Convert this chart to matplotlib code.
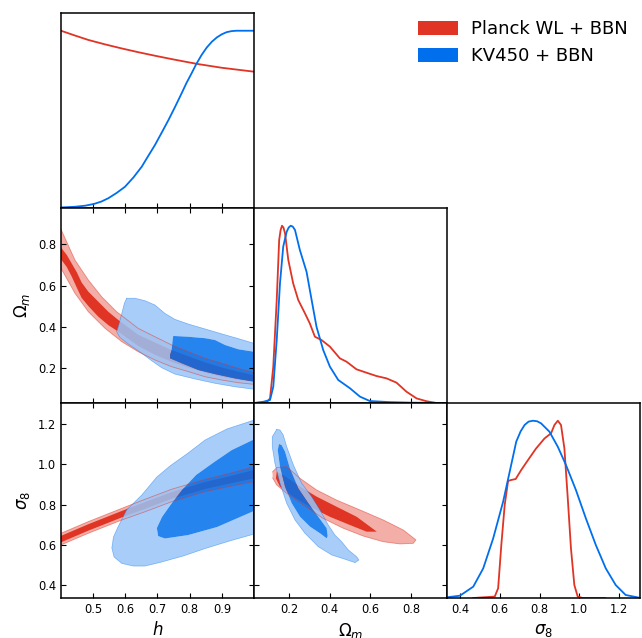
import numpy as np
import matplotlib
matplotlib.use("Agg")
import matplotlib.pyplot as plt
from matplotlib.path import Path
from matplotlib.patches import PathPatch, Patch

RED = "#E03424"
BLUE = "#006FED"
RED_PALE = "#F3AEA7"
BLUE_PALE = "#99C5F8"

labels = ["Planck WL + BBN", "KV450 + BBN"]

h_lim = (0.4, 1.0)
om_lim = (0.027, 0.978)
s8_lim = (0.335, 1.305)

h_ticks = [0.5, 0.6, 0.7, 0.8, 0.9]
om_ticks = [0.2, 0.4, 0.6, 0.8]
s8_ticks = [0.4, 0.6, 0.8, 1.0, 1.2]

# ---- 1D marginals (normalised to peak 1)
h_red_x = [0.4, 0.44, 0.485, 0.537, 0.589, 0.64, 0.692, 0.744, 0.796, 0.826, 0.9, 0.95, 1.0]
h_red_p = [1.0, 0.975, 0.948, 0.923, 0.90, 0.879, 0.859, 0.84, 0.822, 0.812, 0.791, 0.78, 0.769]
h_blue_x = [0.4, 0.4435, 0.475, 0.5026, 0.525, 0.547, 0.573, 0.599, 0.625, 0.651, 0.67, 0.692,
            0.713, 0.734, 0.755, 0.775, 0.79, 0.806, 0.82, 0.837, 0.853, 0.869, 0.885, 0.9,
            0.915, 0.931, 0.946, 0.962, 1.0]
h_blue_p = [0.003, 0.007, 0.013, 0.023, 0.036, 0.055, 0.085, 0.12, 0.172, 0.233, 0.29, 0.355,
            0.425, 0.496, 0.572, 0.647, 0.705, 0.76, 0.81, 0.863, 0.905, 0.938, 0.963, 0.98,
            0.992, 0.998, 1.0, 1.0, 1.0]

om_red_x = [0.027, 0.089, 0.106, 0.122, 0.139, 0.151, 0.158, 0.165, 0.172, 0.18, 0.196, 0.22,
            0.245, 0.278, 0.302, 0.327, 0.36, 0.401, 0.45, 0.483, 0.532, 0.581, 0.631, 0.68,
            0.729, 0.778, 0.828, 0.877, 0.926, 0.978]
om_red_p = [0.0, 0.003, 0.026, 0.205, 0.581, 0.919, 0.975, 1.0, 0.99, 0.957, 0.807, 0.675,
            0.581, 0.506, 0.449, 0.374, 0.355, 0.318, 0.252, 0.233, 0.19, 0.171, 0.152, 0.139,
            0.115, 0.064, 0.026, 0.01, 0.0, 0.0]
om_blue_x = [0.027, 0.073, 0.106, 0.122, 0.139, 0.155, 0.171, 0.188, 0.198, 0.208, 0.218,
             0.229, 0.253, 0.286, 0.311, 0.335, 0.368, 0.401, 0.442, 0.5, 0.549, 0.598, 0.696,
             0.795, 0.978]
om_blue_p = [0.0, 0.007, 0.017, 0.092, 0.355, 0.675, 0.882, 0.966, 0.99, 1.0, 0.995,
             0.976, 0.863, 0.74, 0.581, 0.43, 0.299, 0.205, 0.13, 0.083, 0.036, 0.011, 0.005,
             0.002, 0.0]

s8_red_x = [0.467, 0.575, 0.592, 0.608, 0.625, 0.642, 0.658, 0.68, 0.708, 0.742, 0.783,
            0.825, 0.858, 0.875, 0.892, 0.908, 0.925, 0.942, 0.958, 0.975, 0.992, 1.017, 1.13]
s8_red_p = [0.0, 0.008, 0.055, 0.299, 0.525, 0.66, 0.666, 0.671, 0.722, 0.778, 0.844,
            0.9, 0.929, 0.976, 1.0, 0.976, 0.844, 0.562, 0.28, 0.073, 0.008, 0.0, 0.0]
s8_blue_x = [0.335, 0.4, 0.467, 0.517, 0.567, 0.617, 0.65, 0.683, 0.705, 0.725, 0.745, 0.767,
             0.788, 0.808, 0.85, 0.892, 0.933, 0.983, 1.033, 1.083, 1.133, 1.183, 1.233, 1.295]
s8_blue_p = [0.004, 0.013, 0.064, 0.167, 0.336, 0.543, 0.712, 0.882, 0.94, 0.976, 0.995, 1.0,
             0.997, 0.985, 0.938, 0.853, 0.75, 0.609, 0.449, 0.299, 0.167, 0.073, 0.017, 0.003]

# ---- 2D contours (outer = 95%, inner = 68%)
hom_red_out_x = [0.4, 0.4435, 0.485, 0.5265, 0.573, 0.640, 0.692, 0.744, 0.796, 0.848, 0.900,
                 0.951, 1.0, 1.0, 0.951, 0.9, 0.848, 0.796, 0.744, 0.692, 0.640, 0.589, 0.537,
                 0.485, 0.4435, 0.4]
hom_red_out_y = [0.874, 0.724, 0.627, 0.545, 0.472, 0.391, 0.350, 0.310, 0.277, 0.245, 0.221,
                 0.196, 0.175, 0.118, 0.126, 0.139, 0.155, 0.180, 0.204, 0.237, 0.277, 0.326,
                 0.391, 0.472, 0.562, 0.684]
hom_red_in_x = [0.4, 0.418, 0.433, 0.449, 0.464, 0.485, 0.516, 0.547, 0.578, 0.64, 0.692, 0.744,
                0.796, 0.848, 0.9, 0.951, 1.0, 1.0, 0.951, 0.9, 0.848, 0.796, 0.744, 0.692, 0.64,
                0.578, 0.547, 0.516, 0.485, 0.464, 0.449, 0.433, 0.418, 0.4]
hom_red_in_y = [0.785, 0.749, 0.708, 0.665, 0.615, 0.570, 0.521, 0.472, 0.432, 0.36, 0.322, 0.285,
                0.255, 0.225, 0.2, 0.18, 0.162, 0.13, 0.14, 0.155, 0.175, 0.2, 0.228, 0.262, 0.305,
                0.375, 0.407, 0.448, 0.500, 0.54, 0.59, 0.645, 0.69, 0.728]
hom_blue_out_x = [0.604, 0.630, 0.661, 0.692, 0.723, 0.754, 0.796, 0.848, 0.900, 0.951, 1.0, 1.0,
                  0.941, 0.879, 0.817, 0.754, 0.713, 0.682, 0.640, 0.609, 0.583, 0.573, 0.581,
                  0.589, 0.597]
hom_blue_out_y = [0.538, 0.538, 0.526, 0.505, 0.464, 0.435, 0.412, 0.388, 0.364, 0.341, 0.318,
                  0.094, 0.106, 0.123, 0.144, 0.168, 0.199, 0.233, 0.282, 0.315, 0.347, 0.375,
                  0.416, 0.464, 0.513]
hom_blue_in_x = [0.749, 0.796, 0.848, 0.879, 0.910, 0.951, 1.0, 1.0, 0.941, 0.879, 0.827, 0.775,
                 0.739, 0.739, 0.744, 0.747]
hom_blue_in_y = [0.354, 0.350, 0.343, 0.334, 0.310, 0.289, 0.277, 0.131, 0.147, 0.168, 0.188,
                 0.221, 0.245, 0.261, 0.285, 0.334]

hs8_red_out_x = [0.4, 0.485, 0.589, 0.661, 0.744, 0.848, 0.931, 1.0, 1.0, 0.931, 0.848, 0.744,
                 0.661, 0.589, 0.485, 0.4]
hs8_red_out_y = [0.657, 0.715, 0.781, 0.826, 0.876, 0.925, 0.958, 0.988, 0.914, 0.892, 0.864,
                 0.814, 0.764, 0.723, 0.657, 0.599]
hs8_red_in_x = [0.4, 0.485, 0.589, 0.661, 0.744, 0.848, 0.931, 1.0, 1.0, 0.931, 0.848, 0.744,
                0.661, 0.589, 0.485, 0.4]
hs8_red_in_y = [0.644, 0.702, 0.768, 0.812, 0.862, 0.912, 0.943, 0.972, 0.930, 0.907, 0.877,
                0.828, 0.778, 0.736, 0.670, 0.612]
hs8_blue_out_x = [1.0, 0.916, 0.848, 0.795, 0.739, 0.698, 0.651, 0.604, 0.577, 0.563, 0.558,
                  0.565, 0.589, 0.625, 0.661, 0.708, 0.780, 0.848, 0.925, 1.0]
hs8_blue_out_y = [1.220, 1.176, 1.121, 1.056, 0.992, 0.937, 0.847, 0.773, 0.688, 0.638, 0.584,
                  0.539, 0.507, 0.494, 0.494, 0.512, 0.544, 0.581, 0.619, 0.653]
hs8_blue_in_x = [1.0, 0.931, 0.876, 0.820, 0.779, 0.745, 0.714, 0.698, 0.702, 0.723, 0.795,
                 0.885, 1.0]
hs8_blue_in_y = [1.124, 1.071, 1.011, 0.947, 0.877, 0.808, 0.738, 0.683, 0.643, 0.631, 0.648,
                 0.688, 0.768]

oms8_red_out_x = [0.118, 0.139, 0.188, 0.254, 0.336, 0.434, 0.549, 0.664, 0.763, 0.825, 0.812,
                  0.746, 0.664, 0.566, 0.467, 0.368, 0.270, 0.188, 0.139, 0.119]
oms8_red_out_y = [0.962, 0.984, 0.988, 0.930, 0.872, 0.822, 0.773, 0.723, 0.673, 0.624, 0.607,
                  0.604, 0.615, 0.643, 0.682, 0.731, 0.798, 0.856, 0.897, 0.932]
oms8_red_in_x = [0.139, 0.171, 0.254, 0.336, 0.434, 0.533, 0.632, 0.582, 0.500, 0.401, 0.303,
                 0.221, 0.155, 0.135]
oms8_red_in_y = [0.963, 0.947, 0.889, 0.839, 0.789, 0.739, 0.665, 0.665, 0.698, 0.739, 0.789,
                 0.839, 0.889, 0.930]
oms8_blue_out_x = [0.139, 0.117, 0.117, 0.130, 0.155, 0.188, 0.229, 0.278, 0.344, 0.410, 0.475,
                   0.525, 0.544, 0.533, 0.492, 0.459, 0.426, 0.393, 0.352, 0.311, 0.262, 0.221,
                   0.188, 0.171, 0.155]
oms8_blue_out_y = [1.174, 1.137, 1.088, 1.005, 0.906, 0.806, 0.723, 0.657, 0.590, 0.549, 0.528,
                   0.511, 0.524, 0.540, 0.574, 0.615, 0.648, 0.698, 0.773, 0.839, 0.906, 0.997,
                   1.088, 1.146, 1.171]
oms8_blue_in_x = [0.150, 0.144, 0.155, 0.180, 0.213, 0.254, 0.303, 0.352, 0.385, 0.390, 0.385,
                  0.344, 0.295, 0.245, 0.204, 0.180, 0.163]
oms8_blue_in_y = [1.101, 1.071, 0.988, 0.889, 0.806, 0.739, 0.690, 0.657, 0.632, 0.643, 0.682,
                  0.739, 0.806, 0.881, 0.980, 1.063, 1.096]


def signed_area(p):
    x, y = p[:, 0], p[:, 1]
    return 0.5 * np.sum(x * np.roll(y, -1) - np.roll(x, -1) * y)


def ring_path(ox, oy, ix, iy):
    o = np.column_stack([ox, oy])
    i = np.column_stack([ix, iy])
    if signed_area(o) * signed_area(i) > 0:
        i = i[::-1]
    verts = np.concatenate([o, o[:1], i, i[:1]])
    codes = ([Path.MOVETO] + [Path.LINETO] * (len(o) - 1) + [Path.CLOSEPOLY] +
             [Path.MOVETO] + [Path.LINETO] * (len(i) - 1) + [Path.CLOSEPOLY])
    return Path(verts, codes)


def draw_2d(ax, rox, roy, rix, riy, box, boy, bix, biy):
    ax.fill(rox, roy, color=RED_PALE, lw=0, zorder=1)
    ax.fill(rix, riy, color=RED, lw=0, zorder=1.1)
    ax.add_patch(PathPatch(ring_path(box, boy, bix, biy), facecolor=BLUE_PALE,
                           edgecolor="none", alpha=0.85, zorder=1.2))
    ax.fill(bix, biy, color=BLUE, lw=0, alpha=0.85, zorder=1.3)
    ax.plot(list(box) + [box[0]], list(boy) + [boy[0]], color=BLUE, lw=0.5, alpha=0.45, zorder=1.4)
    ax.plot(rox, roy, color=RED, lw=0.6, alpha=0.5, zorder=1.5)


def style(ax, full=True):
    ax.tick_params(direction="in", length=3.5, width=0.8, labelsize=8.3,
                   top=full, right=full, left=full)
    for s in ax.spines.values():
        s.set_linewidth(1.1)


fig = plt.figure(figsize=(6.42, 6.38), dpi=100)
W, H = 193 / 642, 195 / 638
cols = [61 / 642, 254 / 642, 447 / 642]
rows = [1 - 208 / 638, 1 - 403 / 638, 1 - 598 / 638]

ax_h = fig.add_axes([cols[0], rows[0], W, H])
ax_hom = fig.add_axes([cols[0], rows[1], W, H])
ax_om = fig.add_axes([cols[1], rows[1], W, H])
ax_hs8 = fig.add_axes([cols[0], rows[2], W, H])
ax_oms8 = fig.add_axes([cols[1], rows[2], W, H])
ax_s8 = fig.add_axes([cols[2], rows[2], W, H])

# 1D panels
for ax, rx, rp, bx, bp, lim, ticks in [
        (ax_h, h_red_x, h_red_p, h_blue_x, h_blue_p, h_lim, h_ticks),
        (ax_om, om_red_x, om_red_p, om_blue_x, om_blue_p, om_lim, om_ticks),
        (ax_s8, s8_red_x, s8_red_p, s8_blue_x, s8_blue_p, s8_lim, s8_ticks)]:
    ax.plot(rx, rp, color=RED, lw=1.3)
    ax.plot(bx, bp, color=BLUE, lw=1.3)
    ax.set_xlim(lim)
    ax.set_ylim(0, 1.1)
    ax.set_xticks(ticks)
    ax.set_yticks([])
    style(ax, full=False)
    ax.tick_params(labelbottom=False)

ax_s8.tick_params(labelbottom=True)
ax_s8.set_xticklabels([f"{t:.1f}" for t in s8_ticks])
ax_s8.set_xlabel("$\\sigma_8$", fontsize=12)

# 2D panels
draw_2d(ax_hom, hom_red_out_x, hom_red_out_y, hom_red_in_x, hom_red_in_y,
        hom_blue_out_x, hom_blue_out_y, hom_blue_in_x, hom_blue_in_y)
draw_2d(ax_hs8, hs8_red_out_x, hs8_red_out_y, hs8_red_in_x, hs8_red_in_y,
        hs8_blue_out_x, hs8_blue_out_y, hs8_blue_in_x, hs8_blue_in_y)
draw_2d(ax_oms8, oms8_red_out_x, oms8_red_out_y, oms8_red_in_x, oms8_red_in_y,
        oms8_blue_out_x, oms8_blue_out_y, oms8_blue_in_x, oms8_blue_in_y)

ax_hom.set_xlim(h_lim)
ax_hom.set_ylim(om_lim)
ax_hom.set_xticks(h_ticks)
ax_hom.set_yticks(om_ticks)
style(ax_hom)
ax_hom.tick_params(labelbottom=False)
ax_hom.set_ylabel("$\\Omega_m$", fontsize=12)

ax_hs8.set_xlim(h_lim)
ax_hs8.set_ylim(s8_lim)
ax_hs8.set_xticks(h_ticks)
ax_hs8.set_yticks(s8_ticks)
style(ax_hs8)
ax_hs8.set_xlabel("$h$", fontsize=12)
ax_hs8.set_ylabel("$\\sigma_8$", fontsize=12)

ax_oms8.set_xlim(om_lim)
ax_oms8.set_ylim(s8_lim)
ax_oms8.set_xticks(om_ticks)
ax_oms8.set_yticks(s8_ticks)
style(ax_oms8)
ax_oms8.tick_params(labelleft=False)
ax_oms8.set_xlabel("$\\Omega_m$", fontsize=12)

handles = [Patch(facecolor=RED, edgecolor="none"), Patch(facecolor=BLUE, edgecolor="none")]
fig.legend(handles, labels, loc="upper left", bbox_to_anchor=(418 / 642, 1 - 20 / 638),
           frameon=False, fontsize=13, borderpad=0, borderaxespad=0,
           handlelength=2.2, handleheight=0.8, handletextpad=0.75, labelspacing=0.5)

fig.savefig("out.png", dpi=100)
